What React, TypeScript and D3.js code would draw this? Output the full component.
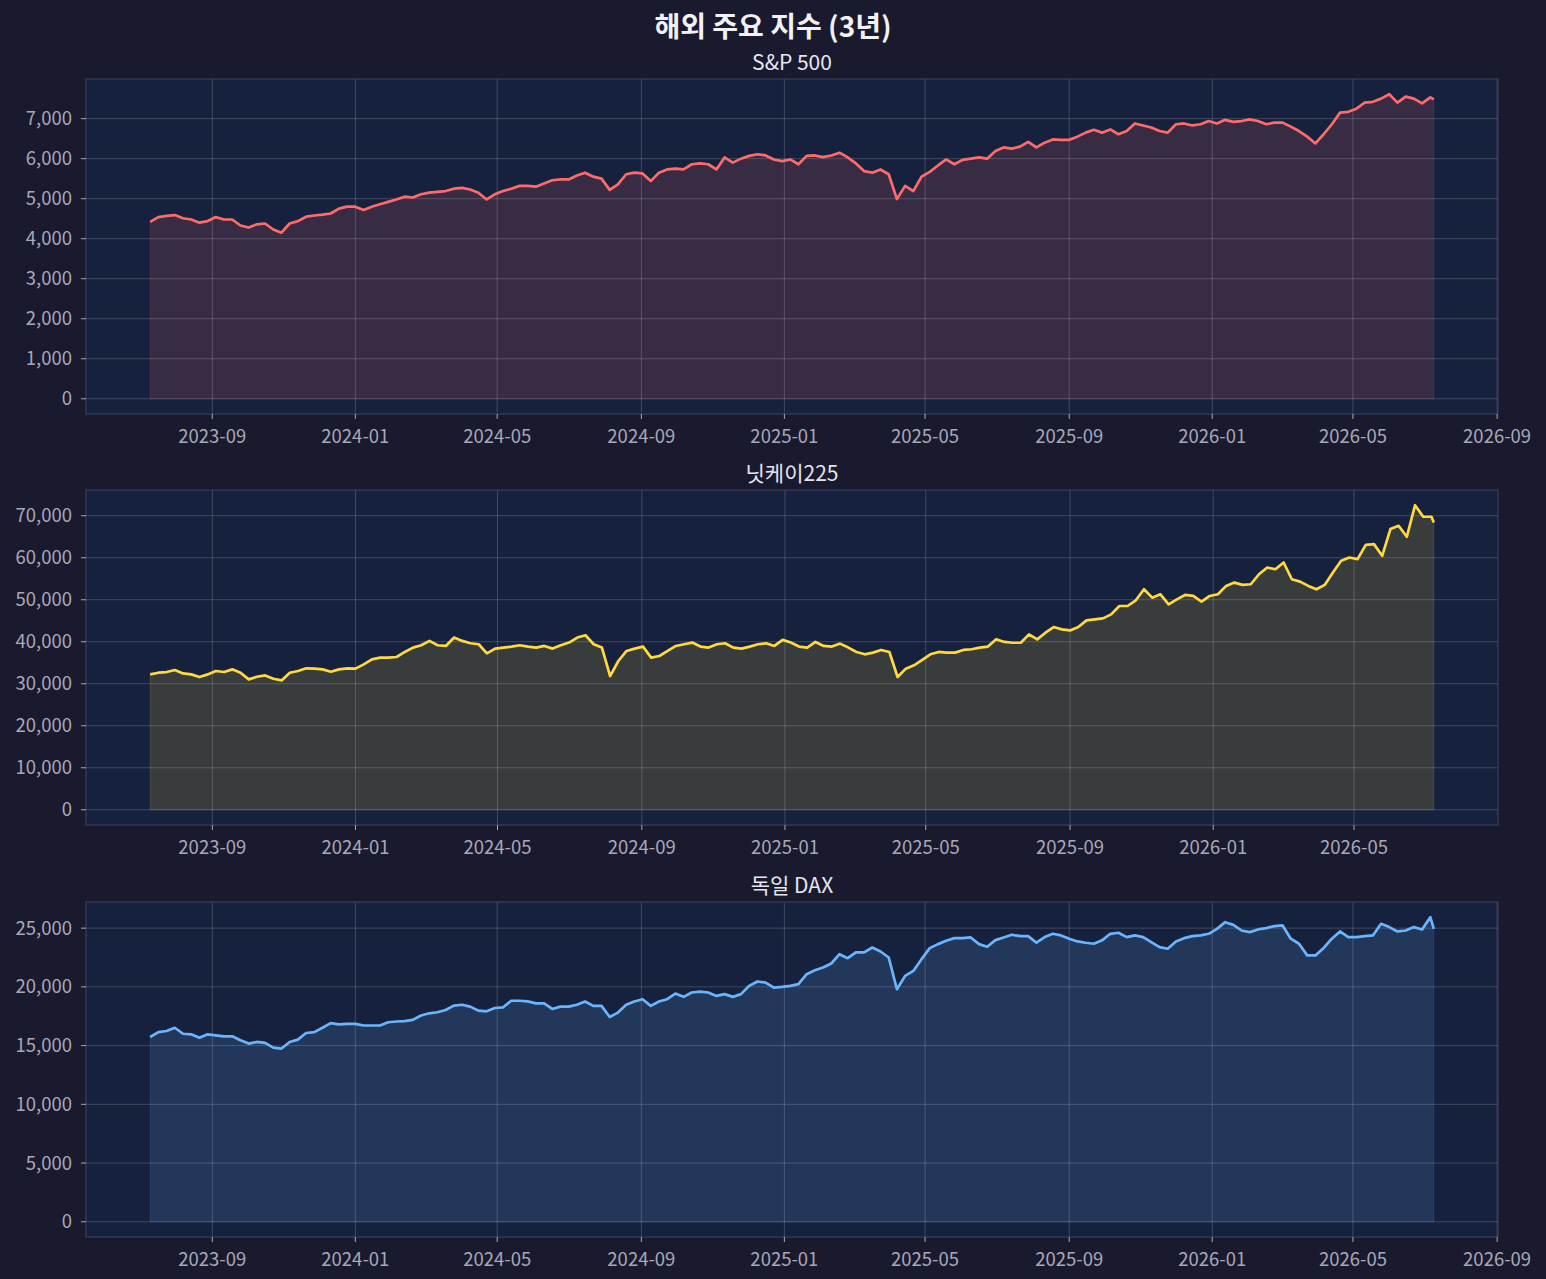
import React from 'react';
import * as d3 from 'd3';

const W = 1546;
const H = 1279;

// weekly closes, first Monday = 2023-07-10, last value = last trading day
const startDate = new Date(2023, 6, 10);
const spxEnd = new Date(2026, 6, 9);
const nikkeiEnd = new Date(2026, 6, 8);
const daxEnd = new Date(2026, 6, 9);

const spx = [
  4420, 4540, 4570, 4590, 4510, 4480, 4400, 4440, 4540, 4480,
  4480, 4330, 4280, 4360, 4380, 4230, 4150, 4380, 4440, 4550,
  4580, 4600, 4630, 4750, 4800, 4800, 4720, 4800, 4860, 4920,
  4980, 5050, 5030, 5110, 5150, 5170, 5190, 5250, 5270, 5230,
  5150, 4980, 5110, 5190, 5250, 5320, 5320, 5300, 5380, 5460,
  5480, 5480, 5580, 5650, 5550, 5500, 5220, 5360, 5610, 5650,
  5630, 5440, 5650, 5730, 5750, 5730, 5860, 5880, 5860, 5730,
  6030, 5900, 6000, 6070, 6110, 6080, 5980, 5940, 5980, 5860,
  6070, 6080, 6040, 6080, 6150, 6030, 5880, 5690, 5650, 5730,
  5610, 4990, 5320, 5190, 5550, 5670, 5830, 5980, 5860, 5970,
  6000, 6030, 6000, 6190, 6280, 6250, 6300, 6420, 6280, 6400,
  6480, 6470, 6470, 6550, 6650, 6720, 6650, 6730, 6610, 6690,
  6880, 6830, 6780, 6690, 6650, 6860, 6880, 6830, 6860, 6940,
  6880, 6970, 6920, 6940, 6980, 6940, 6860, 6900, 6900, 6800,
  6690, 6550, 6380, 6610, 6860, 7150, 7170, 7250, 7400, 7420,
  7500, 7610, 7400, 7550, 7500, 7380, 7530, 7480,
];

const nikkei = [
  32230, 32630, 32790, 33270, 32470, 32230, 31590, 32230, 33030, 32790,
  33430, 32630, 31040, 31670, 31990, 31200, 30800, 32630, 33030, 33670,
  33590, 33430, 32870, 33430, 33670, 33590, 34620, 35820, 36220, 36220,
  36370, 37570, 38610, 39160, 40200, 39160, 39000, 41000, 40200, 39640,
  39400, 37250, 38370, 38610, 38850, 39160, 38850, 38610, 39000, 38370,
  39160, 39800, 41000, 41550, 39400, 38610, 31830, 35420, 37810, 38370,
  38850, 36220, 36610, 37810, 39000, 39400, 39800, 38850, 38610, 39400,
  39640, 38610, 38370, 38850, 39400, 39640, 39000, 40440, 39800, 38850,
  38610, 39960, 39000, 38850, 39560, 38610, 37570, 37010, 37410, 38050,
  37570, 31600, 33590, 34380, 35660, 37010, 37570, 37410, 37410, 38050,
  38210, 38610, 38850, 40600, 39960, 39760, 39760, 41750, 40560, 42150,
  43500, 42940, 42700, 43500, 45090, 45330, 45570, 46520, 48510, 48510,
  49870, 52490, 50500, 51300, 48910, 50100, 51140, 50900, 49550, 50900,
  51300, 53290, 54080, 53530, 53690, 56070, 57670, 57270, 58860, 54880,
  54320, 53290, 52490, 53530, 56470, 59260, 60050, 59660, 63080, 63240,
  60450, 66820, 67610, 65000, 72500, 69760, 69760, 68410,
];

const dax = [
  15730, 16150, 16240, 16520, 16010, 15960, 15670, 15960, 15870, 15790,
  15790, 15450, 15170, 15310, 15230, 14830, 14750, 15310, 15510, 16070,
  16150, 16520, 16910, 16800, 16850, 16850, 16710, 16710, 16710, 16990,
  17050, 17080, 17190, 17560, 17750, 17840, 18030, 18400, 18480, 18320,
  17980, 17920, 18200, 18260, 18820, 18820, 18760, 18600, 18600, 18120,
  18320, 18320, 18480, 18750, 18380, 18380, 17440, 17810, 18470, 18750,
  18950, 18380, 18750, 18950, 19430, 19150, 19520, 19600, 19520, 19230,
  19380, 19150, 19380, 20090, 20460, 20370, 19940, 20000, 20090, 20230,
  21080, 21420, 21650, 21990, 22780, 22440, 22930, 22930, 23350, 23010,
  22500, 19800, 20940, 21360, 22360, 23300, 23640, 23920, 24150, 24150,
  24210, 23640, 23410, 23980, 24210, 24440, 24320, 24320, 23760, 24240,
  24520, 24380, 24100, 23870, 23760, 23670, 23960, 24520, 24610, 24240,
  24380, 24240, 23810, 23390, 23250, 23870, 24150, 24320, 24380, 24520,
  24940, 25510, 25280, 24800, 24660, 24890, 25000, 25170, 25230, 24100,
  23670, 22680, 22680, 23310, 24100, 24720, 24240, 24240, 24320, 24380,
  25370, 25090, 24720, 24800, 25090, 24890, 25930, 24940,
];

const titles = ['S&P 500', '닛케이225', '독일 DAX'];
const colors = ['#ff6b6b', '#ffd93d', '#6bb5ff'];
const yTickSets = [
  [0, 1000, 2000, 3000, 4000, 5000, 6000, 7000],
  [0, 10000, 20000, 30000, 40000, 50000, 60000, 70000],
  [0, 5000, 10000, 15000, 20000, 25000],
];

type Pt = { date: Date; value: number };

const toSeries = (values: number[], end: Date): Pt[] =>
  values.map((v, i) => ({
    date: i === values.length - 1 ? end : d3.timeDay.offset(startDate, 7 * i),
    value: v,
  }));

const series = [toSeries(spx, spxEnd), toSeries(nikkei, nikkeiEnd), toSeries(dax, daxEnd)];

const FONT = '"Noto Sans CJK KR", "Noto Sans", sans-serif';
const BG = '#1a1a2e';
const AX_BG = '#16213e';
const GRID = 'rgba(255,255,255,0.18)';
const SPINE = '#3d4463';
const TICK_TXT = '#a8a8b8';

const left = 86;
const right = 1498;
const tops = [79, 490, 902];
const panelH = 335;

const fmt = d3.format(',');
const fmtDate = d3.timeFormat('%Y-%m');

function Panel({ data, color, title, top, yTicks }: { data: Pt[]; color: string; title: string; top: number; yTicks: number[] }) {
  const bottom = top + panelH;
  const t0 = +data[0].date;
  const t1 = +data[data.length - 1].date;
  const xPad = (t1 - t0) * 0.05;
  const x = d3.scaleTime().domain([new Date(t0 - xPad), new Date(t1 + xPad)]).range([left, right]);
  const ymax = d3.max(data, (d) => d.value) as number;
  const y = d3.scaleLinear().domain([-ymax * 0.05, ymax * 1.05]).range([bottom, top]);

  const xTicks = x.ticks(d3.timeMonth.every(4) as d3.TimeInterval);

  const line = d3.line<Pt>().x((d) => x(d.date)).y((d) => y(d.value));
  const area = d3.area<Pt>().x((d) => x(d.date)).y0(y(0)).y1((d) => y(d.value));

  return (
    <g>
      <rect x={left} y={top} width={right - left} height={panelH} fill={AX_BG} />
      <path d={area(data) || ''} fill={color} fillOpacity={0.15} stroke={color} strokeOpacity={0.15} strokeWidth={1} />
      {xTicks.map((t, i) => (
        <line key={'gx' + i} x1={x(t)} x2={x(t)} y1={top} y2={bottom} stroke={GRID} strokeWidth={1} />
      ))}
      {yTicks.map((v, i) => (
        <line key={'gy' + i} x1={left} x2={right} y1={y(v)} y2={y(v)} stroke={GRID} strokeWidth={1} />
      ))}
      <path d={line(data) || ''} fill="none" stroke={color} strokeWidth={2.7} strokeLinejoin="round" />
      <rect x={left} y={top} width={right - left} height={panelH} fill="none" stroke={SPINE} strokeWidth={1} />
      {xTicks.map((t, i) => (
        <g key={'xt' + i}>
          <line x1={x(t)} x2={x(t)} y1={bottom} y2={bottom + 5} stroke={TICK_TXT} strokeWidth={1} />
          <text x={x(t)} y={bottom + 29} fill={TICK_TXT} fontSize={18.5} textAnchor="middle" fontFamily={FONT}>
            {fmtDate(t)}
          </text>
        </g>
      ))}
      {yTicks.map((v, i) => (
        <g key={'yt' + i}>
          <line x1={left - 5} x2={left} y1={y(v)} y2={y(v)} stroke={TICK_TXT} strokeWidth={1} />
          <text x={left - 14} y={y(v)} dy="0.35em" fill={TICK_TXT} fontSize={18.5} textAnchor="end" fontFamily={FONT}>
            {fmt(v)}
          </text>
        </g>
      ))}
      <text x={(left + right) / 2} y={top - 9} fill="#e6e6ee" fontSize={21} textAnchor="middle" fontFamily={FONT}>
        {title}
      </text>
    </g>
  );
}

export default function App() {
  return (
    <div style={{ position: 'absolute', left: 0, top: 0 }}>
      <svg width={W} height={H} style={{ display: 'block' }}>
        <rect width={W} height={H} fill={BG} />
        <text x={W / 2} y={37} fill="#f2f2f6" fontSize={28} fontWeight="bold" textAnchor="middle" fontFamily={FONT}>
          해외 주요 지수 (3년)
        </text>
        {series.map((s, i) => (
          <Panel key={i} data={s} color={colors[i]} title={titles[i]} top={tops[i]} yTicks={yTickSets[i]} />
        ))}
      </svg>
    </div>
  );
}
